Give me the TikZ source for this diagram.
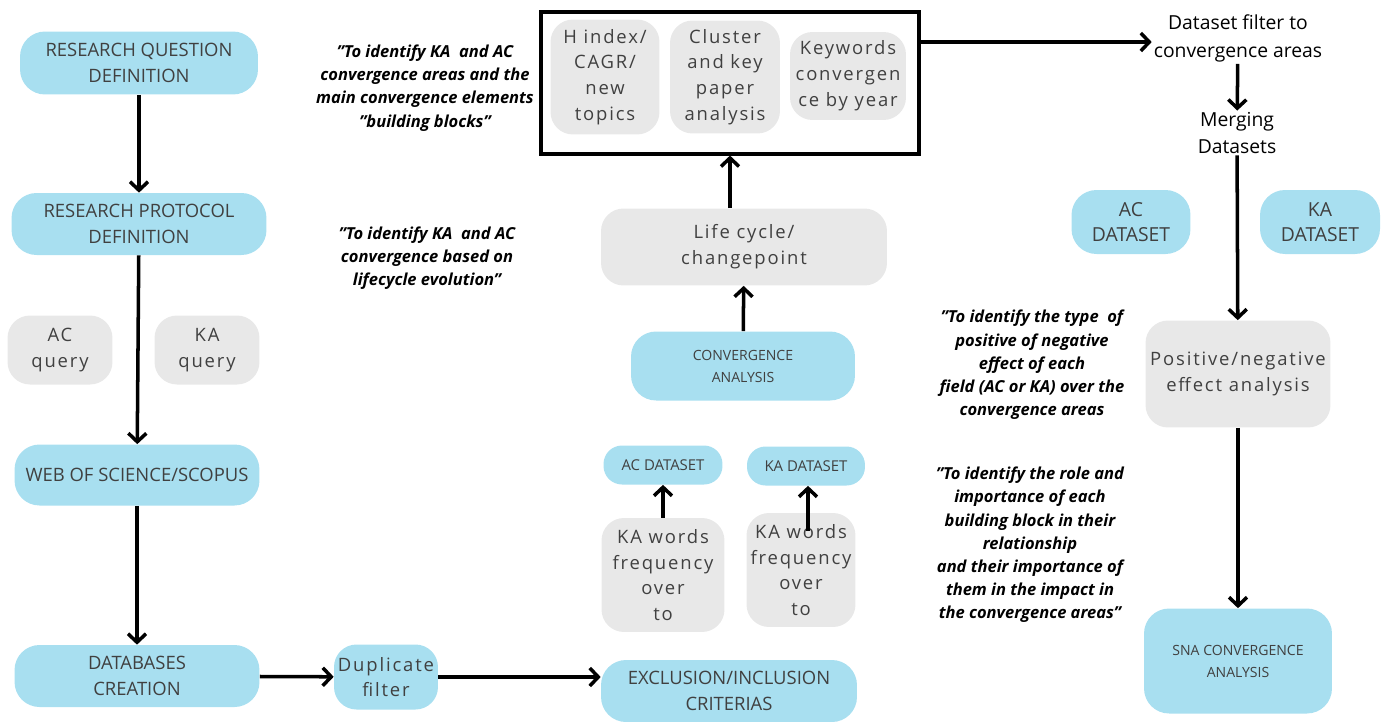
\documentclass[tikz,border=0pt]{standalone}
\usepackage{fontspec}
\setmainfont{Open Sans}
\newfontfamily\widefont[LetterSpace=10]{Open Sans}
\usetikzlibrary{arrows.meta,positioning}
\definecolor{boxblue}{HTML}{A8DFF0}
\definecolor{boxgray}{HTML}{E8E8E8}
\definecolor{boxtext}{HTML}{404040}

\begin{document}
\begin{tikzpicture}[x=0.02cm,y=-0.02cm,
    bluebox/.style={fill=boxblue,rounded corners=0.5cm,align=center,inner sep=0pt,
      text=boxtext,font=\fontsize{10.5}{14.5}\selectfont},
    graybox/.style={fill=boxgray,rounded corners=0.45cm,align=center,inner sep=0pt,
      text=boxtext,font=\widefont\fontsize{10.5}{14.7}\selectfont},
    goalnote/.style={align=center,font=\bfseries\itshape\fontsize{9.4}{13.2}\selectfont},
    flow/.style={-{Straight Barb[length=1.7mm,width=3.6mm]},line width=2pt}]
\useasboundingbox (0,0) rectangle (1387,721);

% left column
\node[bluebox,minimum width=4.76cm,minimum height=1.26cm] (rq) at (139,63)
  {RESEARCH QUESTION\\DEFINITION};
\node[bluebox,minimum width=5.1cm,minimum height=1.24cm] (rp) at (139,224)
  {RESEARCH PROTOCOL\\DEFINITION};
\node[graybox,minimum width=2.1cm,minimum height=1.38cm] (acq) at (60,350) {AC\\query};
\node[graybox,minimum width=2.1cm,minimum height=1.38cm] (kaq) at (207,350) {KA\\query};
\node[bluebox,minimum width=4.9cm,minimum height=1.22cm] (wos) at (137,475)
  {WEB OF SCIENCE/SCOPUS};
\node[bluebox,minimum width=4.9cm,minimum height=1.24cm] (db) at (137,676)
  {DATABASES\\CREATION};
\node[bluebox,font=\widefont\fontsize{10.5}{14.7}\selectfont,rounded corners=0.45cm,
  minimum width=2.08cm,minimum height=1.3cm] (dup) at (386,677) {Duplicate\\filter};
\node[bluebox,minimum width=5.12cm,minimum height=1.24cm] (excl) at (729,691)
  {EXCLUSION/INCLUSION\\CRITERIAS};

% middle column
\node[draw,line width=1.8pt,minimum width=7.56cm,minimum height=2.84cm,inner sep=0pt]
  (frame) at (730,83) {};
\node[graybox,minimum width=2.18cm,minimum height=2.3cm] (hidx) at (605,77)
  {H index/\\CAGR/\\new\\topics};
\node[graybox,minimum width=2.2cm,minimum height=2.26cm] (clus) at (725,77)
  {Cluster\\and key\\paper\\analysis};
\node[graybox,minimum width=2.32cm,minimum height=1.76cm] (kwd) at (848,76)
  {Keywords\\convergen\\ce by year};
\node[graybox,minimum width=5.72cm,minimum height=1.54cm] (life) at (744,247)
  {Life cycle/\\changepoint};
\node[bluebox,font=\fontsize{8}{12.5}\selectfont,minimum width=4.48cm,minimum height=1.38cm]
  (conv) at (743,366) {CONVERGENCE\\ANALYSIS};
\node[bluebox,font=\fontsize{8.5}{12}\selectfont,rounded corners=0.37cm,
  minimum width=2.38cm,minimum height=0.78cm] (acmid) at (663,465) {AC DATASET};
\node[bluebox,font=\fontsize{8.5}{12}\selectfont,rounded corners=0.37cm,
  minimum width=2.36cm,minimum height=0.78cm] (kamid) at (806,466) {KA DATASET};
\node[graybox,minimum width=2.46cm,minimum height=2.28cm] (wordsl) at (663,575)
  {KA words\\frequency\\over\\to};
\node[graybox,minimum width=2.18cm,minimum height=2.28cm] (wordsr) at (801,570)
  {KA words\\frequency\\over\\to};
\coordinate (wr) at (808,531);

% right column
\node[font=\fontsize{11}{16}\selectfont,align=center,inner sep=1pt] (filter) at (1238,38)
  {Dataset filter to\\convergence areas};
\node[font=\fontsize{11}{15}\selectfont,align=center,inner sep=1pt] (merge) at (1237,133)
  {Merging\\Datasets};
\node[bluebox,font=\fontsize{11}{14.5}\selectfont,minimum width=2.38cm,minimum height=1.28cm]
  (acds) at (1131,222) {AC\\DATASET};
\node[bluebox,font=\fontsize{11}{14.5}\selectfont,minimum width=2.4cm,minimum height=1.28cm]
  (kads) at (1320,222) {KA\\DATASET};
\node[graybox,minimum width=3.7cm,minimum height=2.14cm] (posneg) at (1238,374)
  {Positive/negative\\effect analysis};
\node[bluebox,font=\fontsize{8}{12.5}\selectfont,minimum width=3.76cm,minimum height=2.1cm]
  (sna) at (1238,661) {SNA CONVERGENCE\\ANALYSIS};

% goals
\node[goalnote] (goal1) at (425,88) {"To identify KA\ \ and AC\\convergence areas and the\\
  main convergence elements\\"building blocks"};
\node[goalnote] (goal2) at (427,258) {"To identify KA\ \ and AC\\convergence based on\\
  lifecycle evolution"};
\node[goalnote] (goal3) at (1032,365) {"To identify the type\ \ of\\positive of negative\\
  effect of each\\field (AC or KA) over the\\convergence areas};
\node[goalnote] (goal4) at (1030,545) {"To identify the role and\\importance of each\\
  building block in their\\relationship\\and their importance of\\
  them in the impact in\\the convergence areas”};

% connectors
\draw[flow] (rq) -- (rp);
\draw[flow] (rp) -- (wos);
\draw[flow] (wos) -- (db);
\draw[flow] (db) -- (dup);
\draw[flow] (dup.east) -- (dup.east -| excl.west);
\draw[flow] (wordsl) -- (acmid);
\draw[flow] (wr) -- (wr |- kamid.south);
\draw[flow] (conv) -- (life);
\draw[flow] (life.north -| frame.south) -- (frame.south);
\coordinate (fa) at (919,42);
\draw[flow] (fa) -- (fa -| filter.west);
\draw[flow] (filter) -- (merge);
\draw[flow] (merge) -- (posneg);
\draw[flow] (posneg) -- (sna);

\end{tikzpicture}
\end{document}
